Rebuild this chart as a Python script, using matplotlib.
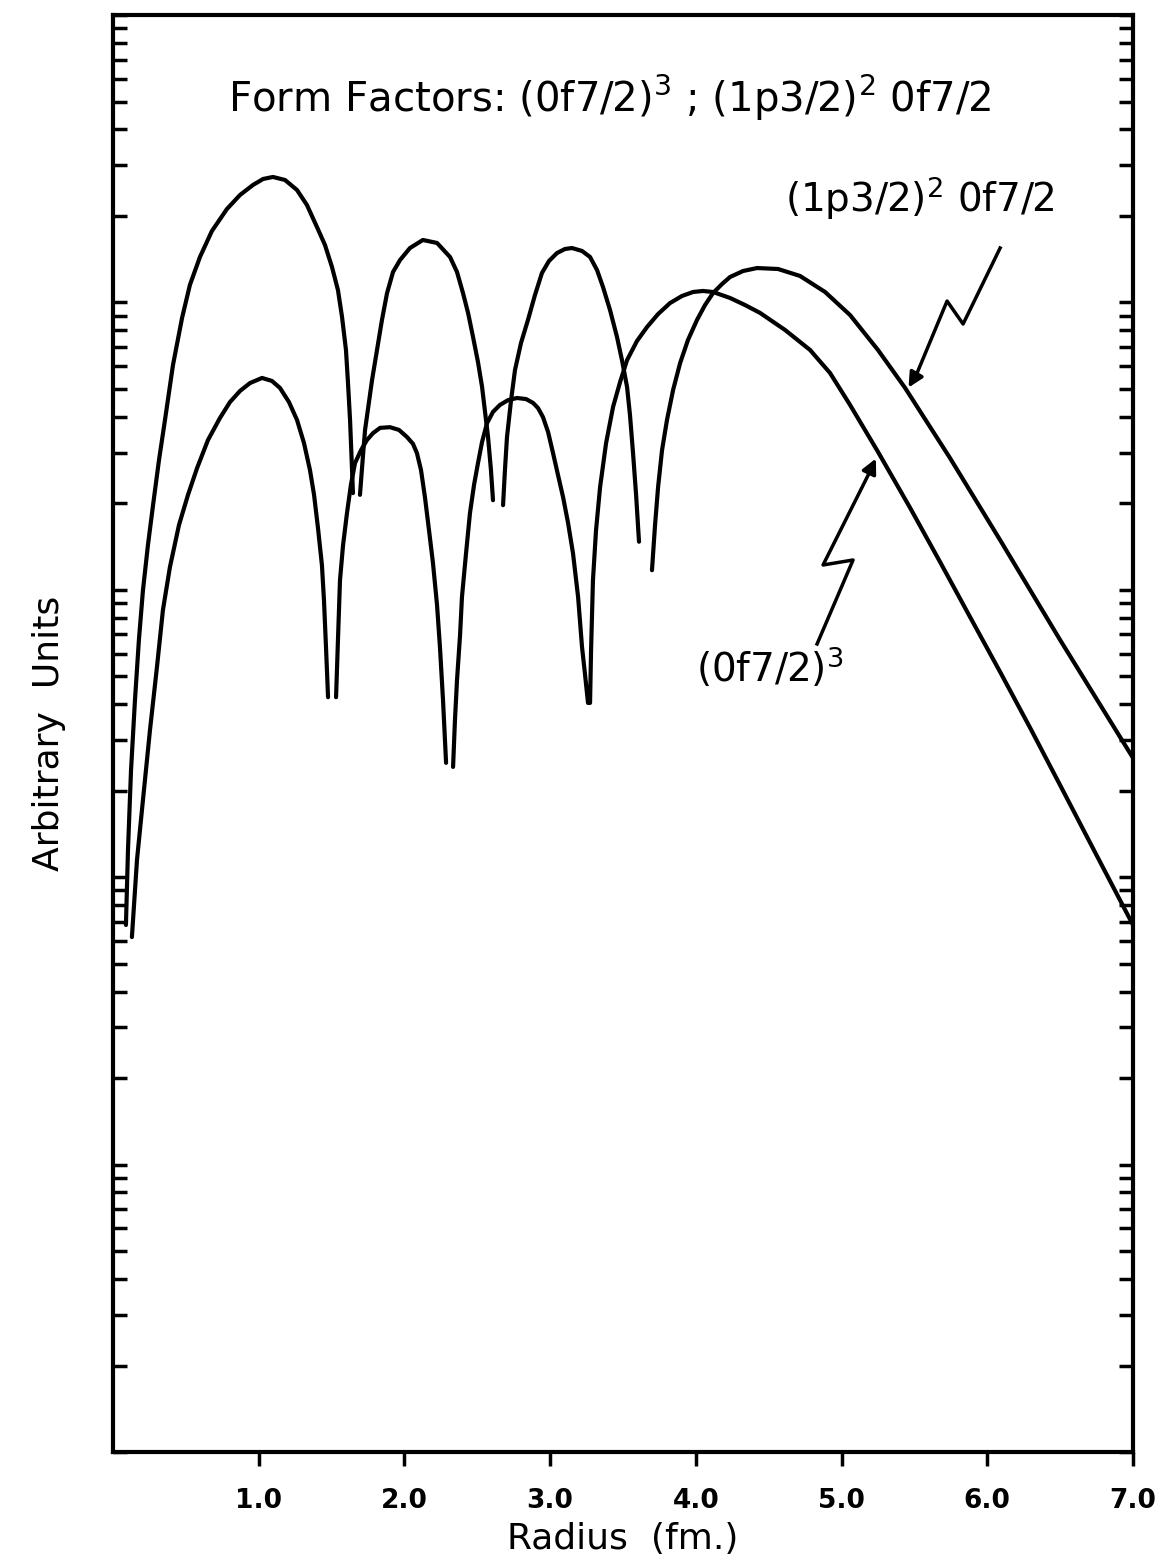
import numpy as np
import matplotlib
matplotlib.use("Agg")
import matplotlib.pyplot as plt
from matplotlib.ticker import LogLocator, NullFormatter, FixedLocator

plt.rcParams['font.family'] = ['DejaVu Sans']

nan = np.nan
# (1p3/2)^2 0f7/2 form factor, branches split at the nodes
r_p = [0.089, 0.103, 0.124, 0.151, 0.178, 0.206, 0.240, 0.275, 0.316, 0.357, 0.412, 0.474,
       0.528, 0.597, 0.679, 0.782, 0.872, 0.961, 1.030, 1.098, 1.181, 1.263, 1.331, 1.400,
       1.455, 1.503, 1.544, 1.572, 1.599, 1.613, 1.627, 1.640, 1.647, nan,
       1.695, 1.716, 1.730, 1.778, 1.812, 1.846, 1.881, 1.922, 1.970, 2.038, 2.127, 2.224,
       2.313, 2.361, 2.402, 2.437, 2.471, 2.505, 2.533, 2.574, 2.594, 2.608, nan,
       2.677, 2.690, 2.704, 2.732, 2.759, 2.800, 2.848, 2.896, 2.944, 2.992, 3.047, 3.102,
       3.150, 3.219, 3.274, 3.322, 3.363, 3.411, 3.459, 3.493, 3.528, 3.548, 3.569, 3.590,
       3.610, nan,
       3.699, 3.720, 3.741, 3.768, 3.802, 3.844, 3.892, 3.946, 4.008, 4.063, 4.118, 4.180,
       4.235, 4.324, 4.420, 4.564, 4.715, 4.887, 5.058, 5.250, 5.436, 5.745, 6.088, 6.500,
       7.000]
f_p = [0.00682, 0.0124, 0.0236, 0.0413, 0.0669, 0.0998, 0.143, 0.197, 0.283, 0.390, 0.606, 0.882,
       1.150, 1.439, 1.772, 2.113, 2.365, 2.562, 2.688, 2.732, 2.666, 2.461, 2.183, 1.829,
       1.584, 1.328, 1.104, 0.890, 0.683, 0.524, 0.390, 0.267, 0.217, nan,
       0.214, 0.294, 0.360, 0.537, 0.683, 0.869, 1.078, 1.276, 1.404, 1.546, 1.649, 1.610,
       1.439, 1.276, 1.078, 0.919, 0.758, 0.620, 0.508, 0.340, 0.261, 0.205, nan,
       0.197, 0.261, 0.340, 0.457, 0.582, 0.722, 0.869, 1.061, 1.266, 1.393, 1.485, 1.534,
       1.546, 1.510, 1.439, 1.296, 1.131, 0.941, 0.758, 0.630, 0.508, 0.406, 0.299, 0.214,
       0.147, nan,
       0.117, 0.168, 0.228, 0.306, 0.390, 0.496, 0.615, 0.740, 0.869, 0.979, 1.078, 1.159,
       1.226, 1.286, 1.317, 1.307, 1.236, 1.087, 0.904, 0.683, 0.504, 0.287, 0.149, 0.0669,
       0.0260]

# (0f7/2)^3 form factor
r_f = [0.130, 0.165, 0.206, 0.254, 0.302, 0.343, 0.391, 0.453, 0.515, 0.577, 0.652, 0.734,
       0.803, 0.872, 0.940, 1.023, 1.091, 1.146, 1.208, 1.263, 1.311, 1.352, 1.380, 1.407,
       1.434, 1.448, 1.462, 1.476, nan,
       1.531, 1.544, 1.558, 1.579, 1.606, 1.633, 1.661, 1.702, 1.743, 1.785, 1.833, 1.901,
       1.963, 2.018, 2.059, 2.086, 2.114, 2.141, 2.169, 2.196, 2.224, 2.244, 2.265, 2.286, nan,
       2.334, 2.347, 2.361, 2.382, 2.395, 2.423, 2.450, 2.478, 2.505, 2.533, 2.567, 2.608,
       2.656, 2.711, 2.773, 2.835, 2.883, 2.917, 2.951, 2.986, 3.020, 3.054, 3.089, 3.123,
       3.157, 3.192, 3.219, 3.240, 3.260, nan,
       3.274, 3.281, 3.294, 3.315, 3.343, 3.384, 3.432, 3.480, 3.528, 3.596, 3.665, 3.741,
       3.823, 3.905, 3.981, 4.049, 4.118, 4.235, 4.338, 4.441, 4.612, 4.784, 4.921, 5.058,
       5.250, 5.470, 5.676, 5.882, 6.088, 6.294, 6.500, 6.740, 7.000]
f_f = [0.00619, 0.0115, 0.0186, 0.0325, 0.0539, 0.0851, 0.120, 0.168, 0.214, 0.265, 0.332, 0.396,
       0.450, 0.492, 0.524, 0.546, 0.533, 0.504, 0.450, 0.390, 0.324, 0.261, 0.214, 0.164,
       0.122, 0.0921, 0.0632, 0.0423, nan,
       0.0423, 0.0669, 0.108, 0.143, 0.185, 0.232, 0.276, 0.306, 0.332, 0.351, 0.366, 0.368,
       0.360, 0.340, 0.322, 0.299, 0.261, 0.210, 0.161, 0.124, 0.0885, 0.0632, 0.0413, 0.0250, nan,
       0.0242, 0.0352, 0.0485, 0.0697, 0.0944, 0.134, 0.185, 0.232, 0.276, 0.327, 0.380, 0.416,
       0.440, 0.457, 0.465, 0.461, 0.447, 0.429, 0.399, 0.354, 0.299, 0.251, 0.210, 0.171,
       0.134, 0.0944, 0.0632, 0.0505, 0.0404, nan,
       0.0404, 0.0617, 0.108, 0.161, 0.228, 0.324, 0.433, 0.528, 0.630, 0.734, 0.821, 0.911,
       0.995, 1.053, 1.087, 1.096, 1.087, 1.036, 0.979, 0.919, 0.802, 0.683, 0.568, 0.440,
       0.302, 0.193, 0.125, 0.0804, 0.0518, 0.0331, 0.0209, 0.0122, 0.00682]

xticks = [1, 2, 3, 4, 5, 6, 7]
xticklabels = ["1.0", "2.0", "3.0", "4.0", "5.0", "6.0", "7.0"]

fig = plt.figure(figsize=(11.73, 15.63), dpi=100)
ax = fig.add_axes([0.0963, 0.0710, 0.8696, 0.9194])

ax.plot(r_p, f_p, color="black", lw=3.0, solid_capstyle="round", solid_joinstyle="round")
ax.plot(r_f, f_f, color="black", lw=3.0, solid_capstyle="round", solid_joinstyle="round")

ax.set_yscale("log")
ax.set_xlim(0, 7)
ax.set_ylim(1e-4, 10)

for s in ax.spines.values():
    s.set_linewidth(3)

ax.yaxis.set_major_locator(LogLocator(base=10, numticks=10))
ax.yaxis.set_minor_locator(LogLocator(base=10, subs=np.arange(2, 10), numticks=100))
ax.yaxis.set_major_formatter(NullFormatter())
ax.yaxis.set_minor_formatter(NullFormatter())
ax.tick_params(axis="y", which="both", direction="in", left=True, right=True,
               length=10, width=2.5)

ax.xaxis.set_major_locator(FixedLocator(xticks))
ax.set_xticklabels(xticklabels, fontsize=19, fontweight="bold")
ax.tick_params(axis="x", which="major", direction="out", length=10, width=2.5, pad=16)

ax.set_xlabel("Radius  (fm.)", fontsize=26, labelpad=6)
ax.set_ylabel("Arbitrary  Units", fontsize=26, labelpad=30)

ax.text(0.487, 0.942, r"Form Factors: (0f7/2)$^3$ ; (1p3/2)$^2$ 0f7/2",
        transform=ax.transAxes, ha="center", va="center", fontsize=29)

ax.text(5.54, 2.31, r"(1p3/2)$^2$ 0f7/2", ha="center", va="center", fontsize=28)
ax.text(4.51, 0.0534, r"(0f7/2)$^3$", ha="center", va="center", fontsize=28)

# lightning arrows
ax.plot([6.088, 5.834, 5.724, 5.51], [1.546, 0.841, 1.011, 0.555], color="black", lw=2.5)
ax.annotate("", xy=(5.450, 0.496), xytext=(5.52, 0.57),
            arrowprops=dict(arrowstyle="-|>", color="black", lw=2.5, mutation_scale=22))
ax.plot([4.832, 5.079, 4.873, 5.19], [0.0648, 0.127, 0.122, 0.255], color="black", lw=2.5)
ax.annotate("", xy=(5.244, 0.292), xytext=(5.18, 0.25),
            arrowprops=dict(arrowstyle="-|>", color="black", lw=2.5, mutation_scale=22))

fig.savefig("out.png", dpi=100)
